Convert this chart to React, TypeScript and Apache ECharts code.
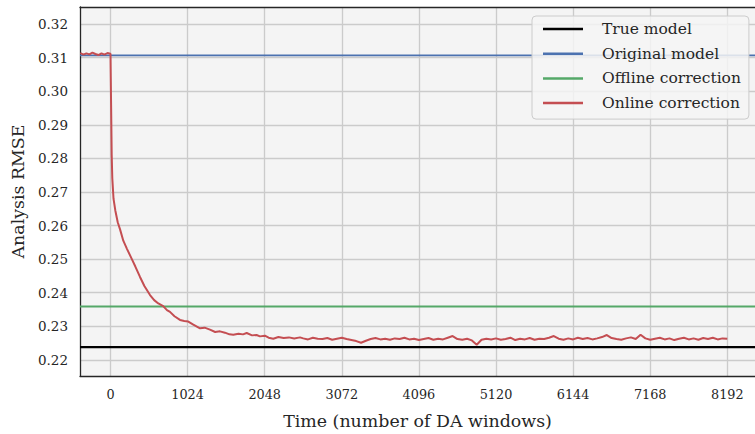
import React, { useEffect, useRef } from "react";
import * as echarts from "echarts";

const xTicks = [0, 1024, 2048, 3072, 4096, 5120, 6144, 7168, 8192];
const yTicks = [0.22, 0.23, 0.24, 0.25, 0.26, 0.27, 0.28, 0.29, 0.3, 0.31, 0.32];
const xMin = -405;
const xMax = 8560;
const yMin = 0.2152;
const yMax = 0.3251;

const seriesNames = ["True model", "Original model", "Offline correction", "Online correction"];
const seriesColors = ["#000000", "#4C72B0", "#55A868", "#C44E52"];

const trueModel = 0.2238;
const originalModel = 0.3107;
const offlineCorrection = 0.2359;

const preX = [-400, -360, -320, -280, -240, -200, -160, -120, -80, -40];
const preY = [0.3114, 0.3109, 0.3113, 0.311, 0.3115, 0.3111, 0.3108, 0.3113, 0.3109, 0.3114];

const decayX = [0, 8, 16, 24, 40, 64, 96, 128, 170, 220, 282, 330, 392, 450, 525, 580, 635, 700, 750, 790, 850, 923, 980, 1033, 1100, 1189, 1250, 1321, 1390, 1454, 1520, 1580, 1631, 1700, 1760, 1809, 1880, 1940, 1985, 2050, 2100, 2162, 2230, 2300, 2370, 2440, 2517];
const decayY = [0.3112, 0.296, 0.281, 0.2741, 0.268, 0.2645, 0.261, 0.2588, 0.2555, 0.253, 0.2501, 0.2478, 0.2447, 0.242, 0.2393, 0.2378, 0.2368, 0.236, 0.2348, 0.2343, 0.233, 0.2319, 0.2316, 0.2314, 0.2305, 0.2294, 0.2296, 0.229, 0.2283, 0.2285, 0.2281, 0.2276, 0.2275, 0.2278, 0.2276, 0.228, 0.2273, 0.2274, 0.227, 0.2272, 0.2266, 0.2263, 0.2268, 0.2265, 0.2267, 0.2264, 0.2267];

const tailStart = 2560;
const tailStep = 64;
const tailY = [
  0.2264, 0.2261, 0.2266, 0.2263, 0.2262, 0.2265, 0.226, 0.2263, 0.2266, 0.2262,
  0.2259, 0.2256, 0.2251, 0.2257, 0.2262, 0.2265, 0.2261, 0.2263, 0.226, 0.2264,
  0.2262, 0.2266, 0.2261, 0.2263, 0.2259, 0.2262, 0.2265, 0.226, 0.2263, 0.2261,
  0.2266, 0.2271, 0.2262, 0.226, 0.2263, 0.2258, 0.2245, 0.226, 0.2263, 0.2261,
  0.2264, 0.226, 0.2262, 0.2266, 0.2259, 0.2263, 0.2261, 0.2265, 0.226, 0.2263,
  0.2262, 0.2266, 0.2271, 0.2263, 0.226, 0.2264, 0.2261, 0.2266, 0.2262, 0.2265,
  0.2261, 0.2264, 0.2268, 0.2274, 0.2265, 0.2262, 0.226, 0.2264, 0.2267, 0.2262,
  0.2275, 0.2264, 0.226, 0.2263, 0.2266, 0.2261, 0.2264, 0.2259, 0.2263, 0.2266,
  0.2261, 0.2264, 0.226, 0.2265, 0.2262, 0.2266, 0.2261, 0.2264, 0.2263,
];

const FONT = "DejaVu Serif";
const SPINE = { show: true, onZero: false, lineStyle: { color: "#262626", width: 1.3 } };

export default function App() {
  const ref = useRef<HTMLDivElement>(null);
  useEffect(() => {
    document.body.style.margin = "0";
    const chart = echarts.init(ref.current!, undefined, { renderer: "svg" });
    const online: number[][] = [];
    preX.forEach((x, i) => online.push([x, preY[i]]));
    decayX.forEach((x, i) => online.push([x, decayY[i]]));
    tailY.forEach((y, i) => online.push([tailStart + i * tailStep, y]));
    const hline = (v: number) => [[xMin, v], [xMax, v]];
    const consts = [trueModel, originalModel, offlineCorrection];
    chart.setOption({
      animation: false,
      grid: {
        left: 80,
        top: 7,
        right: 0,
        bottom: 54,
        show: true,
        backgroundColor: "#f4f4f4",
        borderWidth: 0,
      },
      xAxis: [
        {
          type: "value",
          min: xMin,
          max: xMax,
          name: "Time (number of DA windows)",
          nameLocation: "middle",
          nameGap: 36,
          nameTextStyle: { fontFamily: FONT, fontSize: 17.4, color: "#262626" },
          axisLine: SPINE,
          axisTick: { show: false, customValues: xTicks },
          axisLabel: {
            customValues: xTicks,
            fontFamily: FONT,
            fontSize: 12.8,
            color: "#262626",
            margin: 12,
            formatter: (v: number) => String(v),
          },
          splitLine: { show: true, lineStyle: { color: "#cbcbcb", width: 1.3 } },
        },
        {
          type: "value",
          position: "top",
          min: xMin,
          max: xMax,
          axisLine: SPINE,
          axisTick: { show: false },
          axisLabel: { show: false },
          splitLine: { show: false },
        },
      ],
      yAxis: {
        type: "value",
        min: yMin,
        max: yMax,
        name: "Analysis RMSE",
        nameLocation: "middle",
        nameGap: 54,
        nameTextStyle: { fontFamily: FONT, fontSize: 17.4, color: "#262626" },
        axisLine: SPINE,
        axisTick: { show: false, customValues: yTicks },
        axisLabel: {
          customValues: yTicks,
          fontFamily: FONT,
          fontSize: 13.5,
          color: "#262626",
          margin: 12,
          formatter: (v: number) => v.toFixed(2),
        },
        splitLine: { show: true, lineStyle: { color: "#cbcbcb", width: 1.3 } },
      },
      legend: {
        orient: "vertical",
        left: 532,
        top: 16,
        padding: [4, 8, 7, 11],
        itemGap: 6.7,
        itemWidth: 40,
        itemHeight: 2.5,
        icon: "rect",
        backgroundColor: "rgba(244,244,244,0.85)",
        borderColor: "#cccccc",
        borderWidth: 1,
        borderRadius: 4,
        data: seriesNames,
        textStyle: { fontFamily: FONT, fontSize: 15.5, color: "#262626", lineHeight: 18, padding: [0, 0, 0, 14] },
      },
      series: [
        ...consts.map((v, i) => ({
          name: seriesNames[i],
          type: "line",
          data: hline(v),
          symbol: "none",
          silent: true,
          itemStyle: { color: seriesColors[i] },
          lineStyle: { color: seriesColors[i], width: i === 0 ? 2.2 : 1.8 },
        })),
        {
          name: seriesNames[3],
          type: "line",
          data: online,
          symbol: "none",
          itemStyle: { color: seriesColors[3] },
          lineStyle: { color: seriesColors[3], width: 2 },
        },
      ],
    });
    return () => chart.dispose();
  }, []);
  return <div ref={ref} style={{ width: 755, height: 434 }} />;
}
